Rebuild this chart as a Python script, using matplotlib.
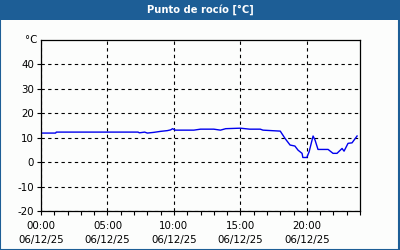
import matplotlib
matplotlib.use("Agg")
import matplotlib.pyplot as plt
from matplotlib.patches import Rectangle
from matplotlib.ticker import MultipleLocator

# -----------------------------------------------------------------------------
# Data (hours of day, dew point in degC)

hours = [0.0, 1.1, 1.15, 7.3, 7.4, 7.8, 8.0, 8.5, 9.0, 9.5, 9.75, 9.9, 10.1,
         11.5, 12.0, 13.0, 13.5, 13.9, 15.0, 15.7, 16.5, 16.7, 18.0, 18.36,
         18.74, 19.1, 19.34, 19.64, 19.7, 20.0, 20.17, 20.47, 20.62, 20.84,
         21.6, 21.97, 22.27, 22.65, 22.8, 23.1, 23.4, 23.78]
dew_point = [11.9, 11.9, 12.3, 12.3, 12.0, 12.3, 11.9, 12.2, 12.6, 12.9, 13.2,
             13.7, 13.1, 13.1, 13.5, 13.5, 13.1, 13.7, 13.9, 13.5, 13.5, 13.1,
             12.7, 9.7, 7.0, 6.6, 4.9, 3.6, 1.9, 1.9, 4.2, 10.7, 9.0, 5.2,
             5.2, 3.6, 3.6, 5.6, 4.5, 7.7, 7.9, 10.7]

x_ticks = [0, 5, 10, 15, 20]
x_labels = ["00:00\n06/12/25", "05:00\n06/12/25", "10:00\n06/12/25",
            "15:00\n06/12/25", "20:00\n06/12/25"]
y_ticks = [-20, -10, 0, 10, 20, 30, 40]

title = "Punto de rocío [°C]"
bar_blue = "#1d5e96"

# -----------------------------------------------------------------------------
# Plot

plt.rcParams["font.family"] = ["DejaVu Sans"]
fig = plt.figure(figsize=(4, 2.5), dpi=100, facecolor="#fcfdfc")

# Title bar and frame
fig.patches.append(Rectangle((0, 0.92), 1, 0.08, transform=fig.transFigure,
                             facecolor=bar_blue, edgecolor="none"))
fig.patches.append(Rectangle((0.001, 0.002), 0.997, 0.996,
                             transform=fig.transFigure, facecolor="none",
                             edgecolor=bar_blue, linewidth=1.5))
fig.text(0.5, 0.96, title, ha="center", va="center", color="white",
         fontsize=7.2, fontweight="bold")

ax = fig.add_axes([0.1025, 0.156, 0.7975, 0.684])
ax.set_facecolor("#fcfdfc")
ax.plot(hours, dew_point, color="#0000ee", linewidth=1)

ax.set_xlim(0, 24)
ax.set_ylim(-20, 50)
ax.set_xticks(x_ticks)
ax.set_xticklabels(x_labels, fontsize=7.4, linespacing=1.5)
ax.xaxis.set_minor_locator(MultipleLocator(1))
ax.set_yticks(y_ticks)
ax.set_yticklabels([str(v) for v in y_ticks], fontsize=7.4)
ax.text(-0.012, 50, "°C", transform=ax.get_yaxis_transform(),
        ha="right", va="center", fontsize=7.4)

ax.tick_params(axis="both", which="major", length=3, width=0.8, pad=2,
               colors="black")
ax.tick_params(axis="x", which="minor", length=3, width=0.8)
ax.tick_params(axis="x", which="major", pad=4)
ax.grid(True, which="major", color="black", linestyle=(0, (3, 3)),
        linewidth=0.8)
for spine in ax.spines.values():
    spine.set_linewidth(0.9)

fig.savefig("out.png", dpi=100, facecolor=fig.get_facecolor())
